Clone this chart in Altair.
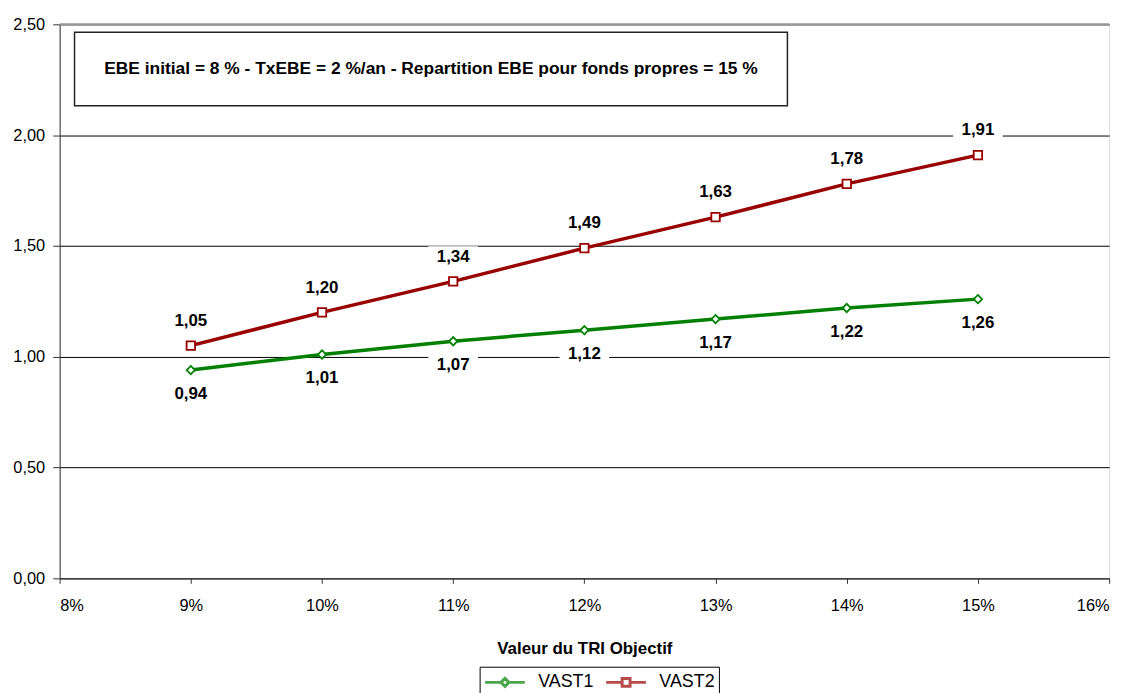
import altair as alt
import pandas as pd

tri = [0.09, 0.10, 0.11, 0.12, 0.13, 0.14, 0.15]
vast1 = [0.94, 1.01, 1.07, 1.12, 1.17, 1.22, 1.26]
vast2 = [1.05, 1.20, 1.34, 1.49, 1.63, 1.78, 1.91]
series = ["VAST1", "VAST2"]
colors = ["#008000", "#990000"]
x_ticks = [0.08, 0.09, 0.10, 0.11, 0.12, 0.13, 0.14, 0.15, 0.16]
y_ticks = [0.0, 0.5, 1.0, 1.5, 2.0, 2.5]
note = "EBE initial = 8 % - TxEBE = 2 %/an - Repartition EBE pour fonds propres = 15 %"

rows = []
for s, vals in zip(series, [vast1, vast2]):
    for t, v in zip(tri, vals):
        rows.append({"tri": t, "v": v, "serie": s})
df = pd.DataFrame(rows)

FONT = "Liberation Sans"

x = alt.X("tri:Q", title="Valeur du TRI Objectif",
          scale=alt.Scale(domain=[0.08, 0.16], nice=False, zero=False),
          axis=alt.Axis(values=x_ticks, format=".0%", grid=False, labelFontSize=16.5,
                        labelFont=FONT, labelColor="black", titleFont=FONT,
                        titleFontSize=17, titleFontWeight="bold", titleColor="black",
                        tickColor="#333333", domainColor="#333333", labelPadding=14,
                        titlePadding=27, tickSize=5))
y = alt.Y("v:Q", title=None,
          scale=alt.Scale(domain=[0, 2.5], nice=False),
          axis=alt.Axis(values=y_ticks, labelExpr="replace(format(datum.value, '.2f'), '.', ',')",
                        grid=True, gridColor="#000000", gridWidth=1, labelFontSize=16.5,
                        labelFont=FONT, labelColor="black", tickColor="#333333",
                        domainColor="#333333", tickSize=7, labelPadding=8))

legend_paths = [
    "M-1,0L0.6,0M1.4,0L3,0M0.6,0L1,-0.4L1.4,0L1,0.4Z",
    "M-1,0L0.6,0M1.4,0L3,0M0.6,-0.4L1.4,-0.4L1.4,0.4L0.6,0.4Z",
]
leg = alt.Legend(title=None, orient="none", legendX=423, legendY=647,
                 direction="horizontal", labelFont=FONT, labelFontSize=18,
                 labelColor="black", strokeColor="black", padding=4,
                 symbolSize=400, symbolStrokeWidth=3, columnPadding=6,
                 labelOffset=32, fillColor="white", symbolFillColor="white")

base = alt.Chart(df)

legend_layer = base.transform_filter("false").mark_point(fill="white", filled=False).encode(
    x=x, y=y,
    stroke=alt.Stroke("serie:N", scale=alt.Scale(domain=series, range=colors), legend=leg),
    shape=alt.Shape("serie:N", scale=alt.Scale(domain=series, range=legend_paths), legend=leg),
)

def sfilter(c, s):
    return c.transform_filter(f"datum.serie == '{s}'")

line1 = sfilter(base, "VAST1").mark_line(strokeWidth=3.5, color=colors[0]).encode(x=x, y=y)
line2 = sfilter(base, "VAST2").mark_line(strokeWidth=3.5, color=colors[1]).encode(x=x, y=y)

pts1 = sfilter(base, "VAST1").mark_point(
    shape="diamond", filled=True, fill="white", stroke=colors[0], strokeWidth=1.8, size=70, opacity=1
).encode(x=x, y=y)
pts2 = sfilter(base, "VAST2").mark_point(
    shape="square", filled=True, fill="white", stroke=colors[1], strokeWidth=1.8, size=72, opacity=1
).encode(x=x, y=y)

bg_shape = "M-1,-0.42L1,-0.42L1,0.42L-1,0.42Z"
lab = base.transform_calculate(label="replace(format(datum.v, '.2f'), '.', ',')")
bg1 = sfilter(lab, "VAST1").mark_point(
    shape=bg_shape, filled=True, fill="white", opacity=1, size=2500, yOffset=24
).encode(x=x, y=y)
bg2 = sfilter(lab, "VAST2").mark_point(
    shape=bg_shape, filled=True, fill="white", opacity=1, size=2500, yOffset=-25
).encode(x=x, y=y)
txt1 = sfilter(lab, "VAST1").mark_text(
    dy=24, font=FONT, fontSize=17, fontWeight="bold", color="black", baseline="middle"
).encode(x=x, y=y, text="label:N")
txt2 = sfilter(lab, "VAST2").mark_text(
    dy=-25, font=FONT, fontSize=17, fontWeight="bold", color="black", baseline="middle"
).encode(x=x, y=y, text="label:N")

top_rule = alt.Chart(pd.DataFrame({"v": [y_ticks[-1]]})).mark_rule(
    color="#999999", strokeWidth=2).encode(y=y)

note_df = pd.DataFrame({"t": [note]})
box = alt.Chart(note_df).mark_rect(fill="white", stroke="#222222", strokeWidth=1.5).encode(
    x=alt.value(15), x2=alt.value(733), y=alt.value(8), y2=alt.value(82))
note_txt = alt.Chart(note_df).mark_text(
    font=FONT, fontSize=17.5, fontWeight="bold", color="black", align="center", baseline="middle"
).encode(x=alt.value(374), y=alt.value(45), text="t:N")

chart = alt.layer(top_rule, bg1, bg2, line1, line2, pts1, pts2, txt1, txt2, box, note_txt,
                  legend_layer).properties(
    width=1057, height=558,
    autosize=alt.AutoSizeParams(type="none"),
    padding={"left": 52, "top": 14, "right": 17, "bottom": 113},
).configure_view(stroke="#999999", strokeWidth=2).configure(background="white")

chart.save("out.html", embed_options={"renderer": "svg", "actions": False})
